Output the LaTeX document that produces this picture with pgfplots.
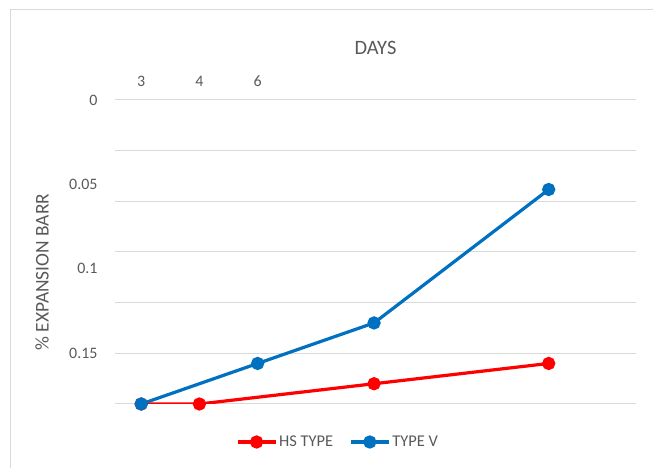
\documentclass[border=0pt]{standalone}
\usepackage{pgfplots}
\pgfplotsset{compat=1.18}
\usepackage{fontspec}
\setmainfont{Carlito}
\definecolor{hsred}{RGB}{255,0,0}
\definecolor{tvblue}{RGB}{0,112,192}
\definecolor{gridgrey}{RGB}{217,217,217}
\definecolor{txtgrey}{RGB}{89,89,89}
\begin{document}
\begin{tikzpicture}[x=1bp,y=1bp]
\useasboundingbox (0,0) rectangle (653,468);
\draw[gridgrey,line width=1bp] (10,0) -- (10,458) -- (653,458);
\begin{axis}[
  at={(115bp,64bp)}, anchor=south west,
  scale only axis, width=521bp, height=304bp,
  xmin=-0.45, xmax=8.5,
  ymin=0, ymax=0.18, y dir=reverse,
  axis line style={draw=none},
  xtick={0,1,...,8},
  xticklabels={3,4,6,,,,,,},
  xticklabel pos=upper,
  major tick length=0pt,
  ytick={0,0.03,0.06,0.09,0.12,0.15,0.18},
  yticklabels={},
  ymajorgrids,
  major grid style={gridgrey,line width=1bp},
  extra y ticks={0,0.05,0.1,0.15},
  extra y tick labels={0,0.05,0.1,0.15},
  extra y tick style={grid=none},
  tick label style={font=\fontsize{16}{18}\selectfont, text=txtgrey},
  yticklabel style={xshift=-14bp},
  xticklabel style={yshift=10bp},
  xlabel={DAYS},
  xlabel style={font=\fontsize{20.5}{23}\selectfont, text=txtgrey, at={(axis description cs:0.5,1)}, anchor=center, yshift=52bp},
  ylabel={\% EXPANSION BARR},
  ylabel style={font=\fontsize{19.5}{22}\selectfont, text=txtgrey, at={(axis description cs:-0.14,0.434)}, anchor=center},
  legend style={at={(axis description cs:0.428,-0.125)}, anchor=center, draw=none, fill=none, legend columns=2, font=\fontsize{16.5}{18}\selectfont, text=txtgrey, /tikz/every even column/.append style={column sep=14bp}},
  legend image code/.code={\draw[#1] (0bp,0bp) -- (38bp,0bp); \draw[#1, mark repeat=2, mark phase=2] plot coordinates {(0bp,0bp) (19bp,0bp) (38bp,0bp)};},
]
\addplot[hsred, line width=3.2bp, mark=*, mark size=5bp] coordinates {(0,0.18) (1,0.18) (4,0.168) (7,0.156)};
\addlegendentry{HS TYPE}
\addplot[tvblue, line width=3.2bp, mark=*, mark size=5bp] coordinates {(0,0.18) (2,0.156) (4,0.132) (7,0.053)};
\addlegendentry{TYPE V}
\end{axis}
\end{tikzpicture}
\end{document}
